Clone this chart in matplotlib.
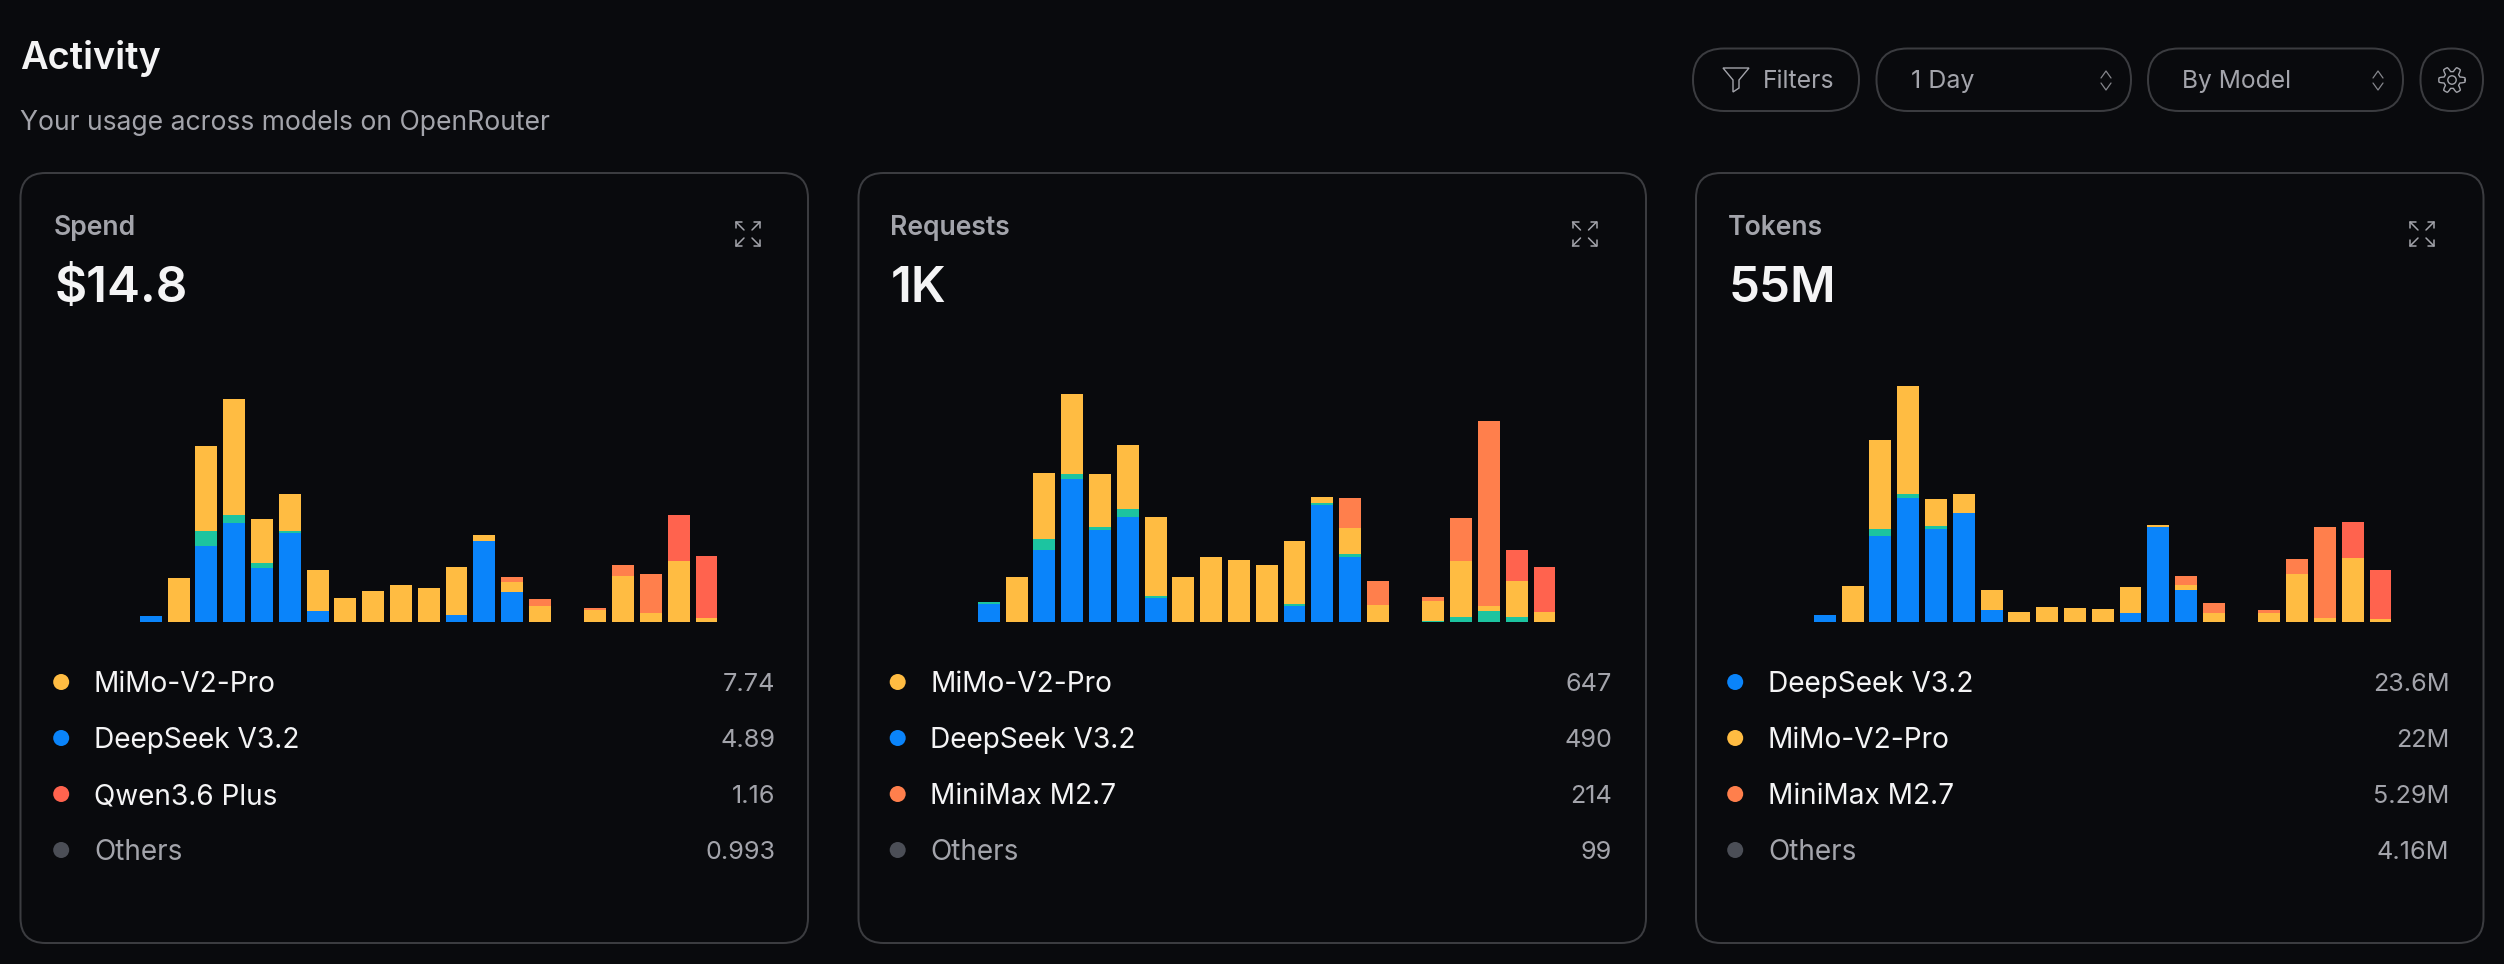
import numpy as np
import matplotlib
matplotlib.use("Agg")
import matplotlib.pyplot as plt
from matplotlib.patches import FancyBboxPatch, Circle, Polygon

plt.rcParams['font.family'] = ['Inter', 'DejaVu Sans']

BG = '#090a0d'
BORDER = '#3b3c40'
GREY = '#a3a4ab'
DIM = '#85868c'
WHITE = '#f4f4f5'
BLUE = '#0a84fa'
TEAL = '#1cc4a0'
AMBER = '#ffbc42'
ORANGE = '#ff7f4c'
RED = '#ff634e'
DOT_OTHER = '#4b4e56'

# bar heights, 21 days, one empty day
spend_deepseek = [18, 0, 228, 297, 161, 268, 32, 0, 0, 0, 0, 21, 243, 90, 0, 0, 0, 0, 0, 0, 0]
spend_teal = [0, 0, 44, 23, 15, 5, 0, 0, 0, 0, 0, 0, 0, 0, 0, 0, 0, 0, 0, 0, 0]
spend_mimo = [0, 133, 255, 350, 134, 112, 125, 73, 94, 111, 102, 145, 19, 30, 47, 0, 36, 138, 27, 183, 13]
spend_minimax = [0, 0, 0, 0, 0, 0, 0, 0, 0, 0, 0, 0, 0, 15, 22, 0, 7, 32, 116, 0, 0]
spend_qwen = [0, 0, 0, 0, 0, 0, 0, 0, 0, 0, 0, 0, 0, 0, 0, 0, 0, 0, 0, 139, 184]

req_deepseek = [55, 0, 216, 428, 276, 316, 73, 0, 0, 0, 0, 49, 352, 196, 0, 0, 0, 0, 0, 0, 0]
req_teal = [5, 0, 32, 16, 8, 24, 4, 0, 0, 0, 0, 4, 4, 8, 0, 0, 4, 16, 33, 16, 0]
req_mimo = [0, 136, 200, 240, 160, 192, 239, 136, 196, 187, 172, 191, 20, 79, 51, 0, 60, 168, 15, 108, 31]
req_minimax = [0, 0, 0, 0, 0, 0, 0, 0, 0, 0, 0, 0, 0, 89, 73, 0, 11, 128, 556, 0, 0]
req_qwen = [0, 0, 0, 0, 0, 0, 0, 0, 0, 0, 0, 0, 0, 0, 0, 0, 0, 0, 0, 92, 133]

tok_deepseek = [20, 0, 257, 371, 280, 326, 37, 0, 0, 0, 0, 26, 286, 97, 0, 0, 0, 0, 0, 0, 0]
tok_teal = [0, 0, 23, 12, 7, 0, 0, 0, 0, 0, 0, 0, 0, 0, 0, 0, 0, 0, 0, 0, 0]
tok_mimo = [0, 108, 266, 326, 82, 58, 59, 31, 46, 43, 40, 79, 6, 15, 28, 0, 28, 145, 11, 192, 9]
tok_minimax = [0, 0, 0, 0, 0, 0, 0, 0, 0, 0, 0, 0, 0, 27, 30, 0, 8, 44, 274, 0, 0]
tok_qwen = [0, 0, 0, 0, 0, 0, 0, 0, 0, 0, 0, 0, 0, 0, 0, 0, 0, 0, 0, 109, 147]

panel_titles = ['Spend', 'Requests', 'Tokens']
panel_totals = ['$14.8', '1K', '55M']
spend_legend = ['MiMo-V2-Pro', 'DeepSeek V3.2', 'Qwen3.6 Plus', 'Others']
spend_legend_values = ['7.74', '4.89', '1.16', '0.993']
req_legend = ['MiMo-V2-Pro', 'DeepSeek V3.2', 'MiniMax M2.7', 'Others']
req_legend_values = ['647', '490', '214', '99']
tok_legend = ['DeepSeek V3.2', 'MiMo-V2-Pro', 'MiniMax M2.7', 'Others']
tok_legend_values = ['23.6M', '22M', '5.29M', '4.16M']

spend_dots = [AMBER, BLUE, RED, DOT_OTHER]
req_dots = [AMBER, BLUE, ORANGE, DOT_OTHER]
tok_dots = [BLUE, AMBER, ORANGE, DOT_OTHER]

W, H = 2504, 964
PX = 0.72  # points per pixel at dpi 100
fig = plt.figure(figsize=(W / 100, H / 100), dpi=100, facecolor=BG)
page = fig.add_axes([0, 0, 1, 1])
page.set_xlim(0, W)
page.set_ylim(H, 0)
page.axis('off')


def rounded(x0, y0, x1, y1, radius, lw=2):
    box = FancyBboxPatch((x0 + radius, y0 + radius), x1 - x0 - 2 * radius, y1 - y0 - 2 * radius,
                         boxstyle=f"round,pad={radius},rounding_size={radius}",
                         facecolor='none', edgecolor=BORDER, linewidth=lw * PX)
    page.add_patch(box)


def stroke(xs, ys, color=GREY, lw=1.5):
    page.plot(xs, ys, color=color, linewidth=lw, solid_capstyle='round', solid_joinstyle='round')


def expand_icon(x0, y0, x1, y1):
    s = 6
    for cx, cy, dx, dy in [(x0, y0, 1, 1), (x1, y0, -1, 1), (x0, y1, 1, -1), (x1, y1, -1, -1)]:
        stroke([cx + dx * s, cx, cx], [cy, cy, cy + dy * s], lw=1.1)
        stroke([cx, cx + dx * 8], [cy, cy + dy * 8], lw=1.1)


def gear_icon(cx, cy):
    angles = np.linspace(0, 2 * np.pi, 181)
    radii = 10.8 + 2.4 * np.clip(1.8 * np.cos(6 * angles), -1, 1)
    page.plot(cx + radii * np.cos(angles), cy + radii * np.sin(angles), color=GREY, linewidth=1.0)
    page.add_patch(Circle((cx, cy), 4.2, facecolor='none', edgecolor=GREY, linewidth=1.0))


def chevrons(cx):
    stroke([cx - 5, cx, cx + 5], [78, 71, 78], color=DIM, lw=0.9)
    stroke([cx - 5, cx, cx + 5], [83, 90, 83], color=DIM, lw=0.9)


def draw_panel(card_offset, offset, bar_offset, title, total, series, names, values, dots):
    rounded(20.5 + card_offset, 173, 808 + card_offset, 943, 25)

    page.text(54 + offset, 235, title, color=GREY, fontsize=26.6 * PX, fontweight='semibold', va='baseline')
    page.text(54.5 + offset, 302, total, color=WHITE, fontsize=49.5 * PX, fontweight='semibold', va='baseline')
    expand_icon(736 + offset, 222, 760 + offset, 246)

    # bars go in their own axes, baseline sits at y=622
    left = 150.9 + bar_offset - 13.89
    ax = fig.add_axes([left / W, 1 - 622 / H, 21 * 27.78 / W, 262 / H])
    ax.set_xlim(-0.5, 20.5)
    ax.set_ylim(0, 786)
    ax.axis('off')
    days = np.arange(21)
    bottom = np.zeros(21)
    for vals, color in zip(series, [BLUE, TEAL, AMBER, ORANGE, RED]):
        ax.bar(days, vals, width=0.79, bottom=bottom, color=color, linewidth=0)
        bottom = bottom + np.array(vals)

    for i in range(4):
        y = 682 + i * 56
        page.add_patch(Circle((61.2 + offset, y), 8, facecolor=dots[i], edgecolor='none'))
        name_color = GREY if names[i] == 'Others' else WHITE
        page.text(94 + offset, y + 10, names[i], color=name_color, fontsize=28 * PX, va='baseline')
        page.text(775.5 + offset, y + 9, values[i], color=GREY, fontsize=25.2 * PX, va='baseline', ha='right')


page.text(20.5, 69, 'Activity', color=WHITE, fontsize=38 * PX, fontweight='semibold', va='baseline')
page.text(20.5, 130, 'Your usage across models on OpenRouter', color=GREY, fontsize=26.5 * PX, va='baseline')

# header controls
rounded(1693, 48.5, 1859, 111, 31)
rounded(1876.5, 48.5, 2131, 111, 31)
rounded(2148, 48.5, 2403, 111, 31)
rounded(2420.5, 48.5, 2483, 111, 31)
page.add_patch(Polygon([(1723, 68), (1749, 68), (1739, 80), (1739, 88), (1733, 92), (1733, 80)],
                       closed=True, facecolor='none', edgecolor=GREY, linewidth=1.0))
page.text(1763, 88, 'Filters', color=GREY, fontsize=24.8 * PX, va='baseline')
page.text(1911, 88, '1 Day', color=GREY, fontsize=25 * PX, va='baseline')
page.text(2182, 88, 'By Model', color=GREY, fontsize=24.6 * PX, va='baseline')
chevrons(2106)
chevrons(2378)
gear_icon(2452, 80)

draw_panel(0, 0, 0, panel_titles[0], panel_totals[0],
           [spend_deepseek, spend_teal, spend_mimo, spend_minimax, spend_qwen],
           spend_legend, spend_legend_values, spend_dots)
draw_panel(838, 836.5, 838, panel_titles[1], panel_totals[1],
           [req_deepseek, req_teal, req_mimo, req_minimax, req_qwen],
           req_legend, req_legend_values, req_dots)
draw_panel(1675.5, 1674, 1674, panel_titles[2], panel_totals[2],
           [tok_deepseek, tok_teal, tok_mimo, tok_minimax, tok_qwen],
           tok_legend, tok_legend_values, tok_dots)

fig.savefig('out.png', dpi=100, facecolor=BG)
